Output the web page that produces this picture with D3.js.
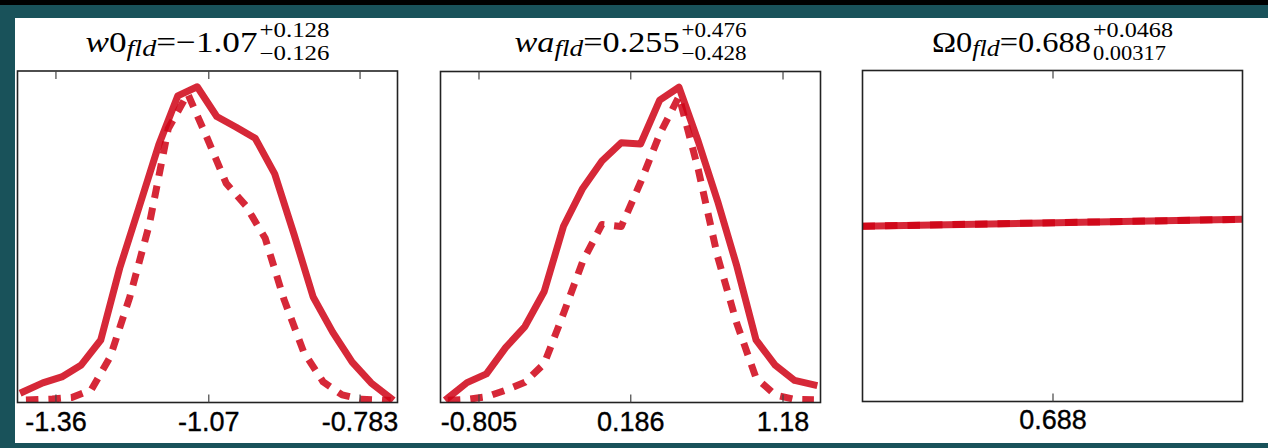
<!DOCTYPE html>
<html><head><meta charset="utf-8">
<script src="https://cdn.jsdelivr.net/npm/d3@7"></script>
<style>html,body{margin:0;padding:0;background:#19525a;overflow:hidden}
.serif{font-family:'Liberation Serif','Times New Roman',serif}
.sans{font-family:'Liberation Sans',Arial,sans-serif}</style>
</head><body><svg id="c" width="1268" height="448"></svg>
<script>
// ---------- data ----------
const w0Ticks = [-1.36, -1.07, -0.783];
const w0TickLabels = ["-1.36", "-1.07", "-0.783"];
const w0Domain = [-1.432, -0.711];
const w0SolidX = [-1.421, -1.384, -1.348, -1.311, -1.274, -1.238, -1.201, -1.164, -1.128, -1.091,
                  -1.054, -1.017, -0.981, -0.944, -0.907, -0.871, -0.834, -0.797, -0.761, -0.724];
const w0SolidY = [0.034, 0.062, 0.081, 0.119, 0.198, 0.426, 0.620, 0.816, 0.971, 1.000,
                  0.906, 0.872, 0.837, 0.724, 0.531, 0.334, 0.223, 0.128, 0.062, 0.014];
const w0DashX = [-1.416, -1.366, -1.329, -1.292, -1.256, -1.219, -1.182, -1.146, -1.109, -1.072,
                 -1.036, -0.999, -0.962, -0.926, -0.889, -0.852, -0.816, -0.779, -0.742, -0.724];
const w0DashY = [0.008, 0.011, 0.016, 0.040, 0.145, 0.334, 0.563, 0.867, 0.978, 0.837,
                 0.694, 0.624, 0.520, 0.325, 0.160, 0.065, 0.024, 0.010, 0.008, 0.006];

const waTicks = [-0.805, 0.186, 1.18];
const waTickLabels = ["-0.805", "0.186", "1.18"];
const waDomain = [-1.053, 1.428];
const waSolidX = [-1.005, -0.880, -0.753, -0.628, -0.502, -0.376, -0.250, -0.125, 0.001, 0.127,
                  0.253, 0.378, 0.504, 0.630, 0.756, 0.882, 1.007, 1.133, 1.259, 1.385];
const waSolidY = [0.014, 0.063, 0.091, 0.174, 0.241, 0.352, 0.559, 0.679, 0.766, 0.824,
                  0.820, 0.959, 1.000, 0.828, 0.639, 0.432, 0.199, 0.118, 0.070, 0.056];
const waDashX = waSolidX;
const waDashY = [0.007, 0.010, 0.018, 0.039, 0.064, 0.123, 0.282, 0.447, 0.565, 0.558,
                 0.698, 0.851, 0.971, 0.739, 0.463, 0.250, 0.078, 0.024, 0.010, 0.009];

const om0Ticks = [0.688];
const om0TickLabels = ["0.688"];
const om0Domain = [0.678, 0.698];
const om0X = [0.678, 0.698];
const om0SolidY = [0.556, 0.578];
const om0DashY = [0.556, 0.578];

const titleParts = [
  [{t: "w", i: true}, {t: "0"}, {t: "fld", i: true, s: true}, {t: "=\u22121.07"}],
  [{t: "wa", i: true}, {t: "fld", i: true, s: true}, {t: "=0.255"}],
  [{t: "\u03A90"}, {t: "fld", i: true, s: true}, {t: "=0.688"}]
];
const titleSup = ["+0.128", "+0.476", "+0.0468"];
const titleSub = ["\u22120.126", "\u22120.428", "0.00317"];

// ---------- layout ----------
const svg = d3.select("#c");
svg.append("rect").attr("x", 0).attr("y", 0).attr("width", 1268).attr("height", 448).attr("fill", "#19525a");
svg.append("rect").attr("x", 0).attr("y", 0).attr("width", 1268).attr("height", 5).attr("fill", "#000");
svg.append("rect").attr("x", 15).attr("y", 18).attr("width", 1253).attr("height", 425).attr("fill", "#fff");

const panels = [
  {left: 17.5, top: 71, bottom: 402.5, domain: w0Domain, ticks: w0Ticks, labels: w0TickLabels,
   sx: w0SolidX, sy: w0SolidY, dx: w0DashX, dy: w0DashY, labelY: 430.5,
   mainW: 172, supW: 70, subW: 70},
  {left: 440.5, top: 71.5, bottom: 402.5, domain: waDomain, ticks: waTicks, labels: waTickLabels,
   sx: waSolidX, sy: waSolidY, dx: waDashX, dy: waDashY, labelY: 430.5,
   mainW: 165, supW: 65, subW: 65},
  {left: 862.5, top: 70.5, bottom: 401.5, domain: om0Domain, ticks: om0Ticks, labels: om0TickLabels,
   sx: om0X, sy: om0SolidY, dx: om0X, dy: om0DashY, labelY: 428.5,
   mainW: 159, supW: 80, subW: 73}
];
const W = 380;
const lineColor = "#cf0215";

panels.forEach((p, idx) => {
  const x = d3.scaleLinear().domain(p.domain).range([p.left, p.left + W]);
  const y = d3.scaleLinear().domain([0, 1.05]).range([p.bottom, p.top]);
  const clipId = "clip" + idx;
  svg.append("clipPath").attr("id", clipId).append("rect")
    .attr("x", p.left).attr("y", p.top).attr("width", W).attr("height", p.bottom - p.top);

  const line = d3.line().x(d => x(d[0])).y(d => y(d[1]));
  const g = svg.append("g").attr("clip-path", `url(#${clipId})`);
  g.append("path").datum(p.sx.map((v, i) => [v, p.sy[i]]))
    .attr("d", line).attr("fill", "none").attr("stroke", lineColor).attr("stroke-opacity", 0.85)
    .attr("stroke-width", 7).attr("stroke-linejoin", "round").attr("stroke-linecap", "square");
  g.append("path").datum(p.dx.map((v, i) => [v, p.dy[i]]))
    .attr("d", line).attr("fill", "none").attr("stroke", lineColor).attr("stroke-opacity", 0.85)
    .attr("stroke-width", 7).attr("stroke-linejoin", "round").attr("stroke-dasharray", "12.5,10");

  // frame
  svg.append("rect").attr("x", p.left).attr("y", p.top).attr("width", W).attr("height", p.bottom - p.top)
    .attr("fill", "none").attr("stroke", "#222").attr("stroke-width", 1.6);

  // ticks via axes
  const axB = d3.axisBottom(x).tickValues(p.ticks).tickSizeInner(-8).tickSizeOuter(0).tickFormat((d, i) => p.labels[i]);
  const gb = svg.append("g").attr("transform", `translate(0,${p.bottom})`).call(axB);
  gb.select(".domain").remove();
  gb.attr("font-family", null).attr("font-size", null);
  gb.selectAll(".tick line").attr("stroke", "#444").attr("stroke-width", 1.2);
  gb.selectAll(".tick text").attr("class", "sans").attr("y", p.labelY - p.bottom).attr("dy", null)
    .attr("font-size", 27).attr("fill", "#000").attr("stroke", "#000").attr("stroke-width", 0.35);
  const axT = d3.axisTop(x).tickValues(p.ticks).tickSizeInner(-8).tickSizeOuter(0).tickFormat("");
  const gt = svg.append("g").attr("transform", `translate(0,${p.top})`).call(axT);
  gt.select(".domain").remove();
  gt.selectAll(".tick line").attr("stroke", "#444").attr("stroke-width", 1.2);

  // title (mathtext-like: main part, then stacked super/subscript)
  const cx = p.left + W / 2;
  const tg = svg.append("g");
  const tt = tg.append("text").attr("class", "serif").attr("x", 0).attr("y", 52)
    .attr("font-size", 30).attr("fill", "#000")
    .attr("textLength", p.mainW).attr("lengthAdjust", "spacingAndGlyphs");
  let shifted = false;
  titleParts[idx].forEach(part => {
    const ts = tt.append("tspan").text(part.t);
    if (part.i) ts.attr("font-style", "italic");
    if (part.s) { ts.attr("font-size", 24).attr("dy", 3.5); shifted = true; }
    else if (shifted) { ts.attr("dy", -3.5); shifted = false; }
  });
  const sx0 = p.mainW + 2;
  tg.append("text").attr("class", "serif").attr("x", sx0).attr("y", 37).text(titleSup[idx])
    .attr("font-size", 20).attr("fill", "#000").attr("textLength", p.supW).attr("lengthAdjust", "spacingAndGlyphs");
  tg.append("text").attr("class", "serif").attr("x", sx0).attr("y", 59.5).text(titleSub[idx])
    .attr("font-size", 20).attr("fill", "#000").attr("textLength", p.subW).attr("lengthAdjust", "spacingAndGlyphs");
  const total = sx0 + Math.max(p.supW, p.subW);
  tg.attr("transform", `translate(${cx - total / 2},0)`);
});
</script></body></html>
